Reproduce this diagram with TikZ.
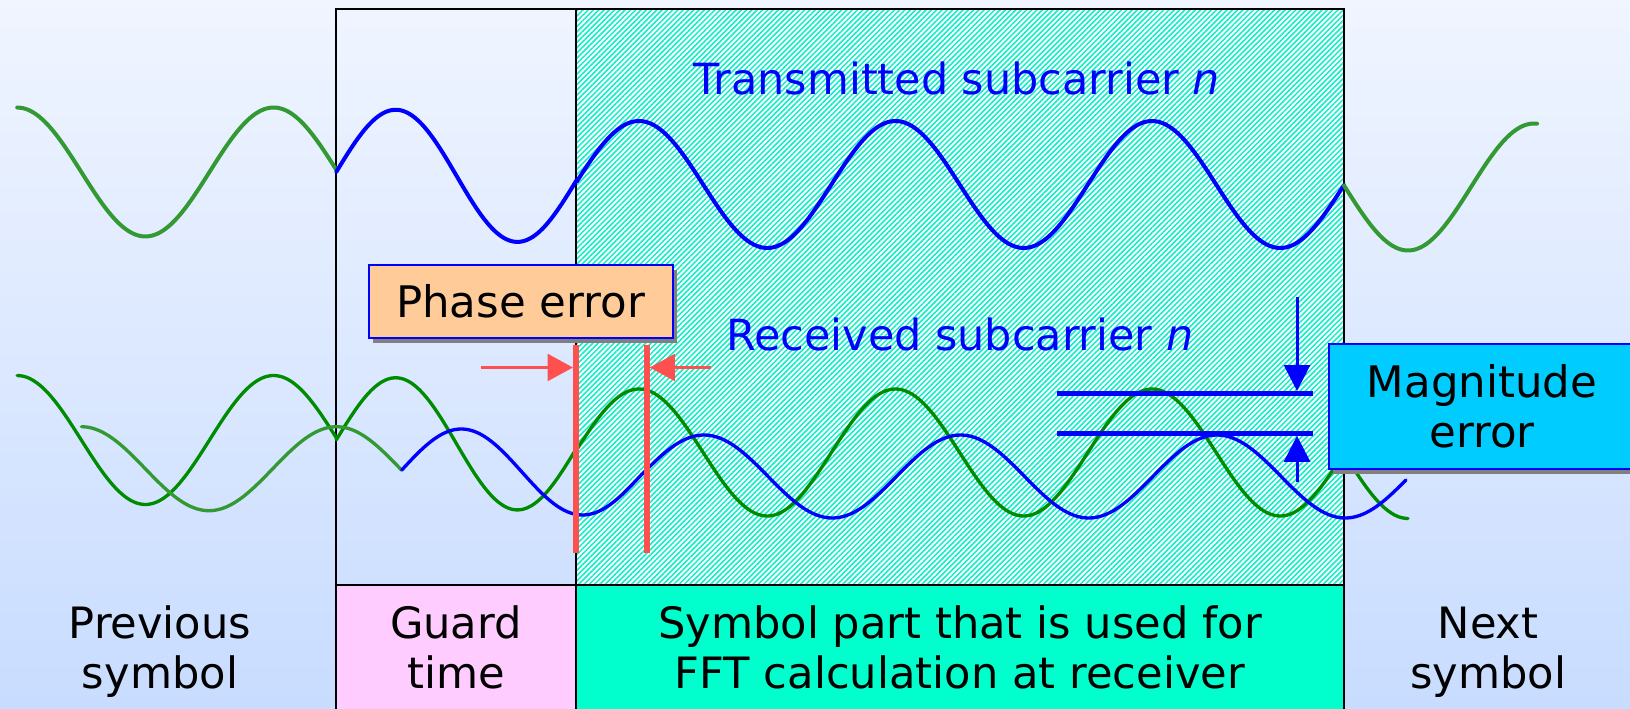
\documentclass[tikz,border=0pt]{standalone}
\usepackage{fontspec}
\setmainfont{DejaVu Sans}
\usetikzlibrary{arrows.meta,patterns.meta,shadows}
\definecolor{bgtop}{HTML}{F0F5FF}
\definecolor{bgbot}{HTML}{C8DCFF}
\definecolor{guardc}{HTML}{FFCCFF}
\definecolor{fftc}{HTML}{00FFCC}
\definecolor{hatchc}{HTML}{10EEC8}
\definecolor{phasec}{HTML}{FFCC99}
\definecolor{magc}{HTML}{00CCFF}
\definecolor{wblue}{HTML}{0000FF}
\definecolor{gdark}{HTML}{008C00}
\definecolor{glight}{HTML}{339933}
\definecolor{redc}{HTML}{FF5050}
\tikzset{
  lbl/.style={font=\fontsize{32.4}{37.5}\selectfont, align=center, anchor=base, inner sep=0pt},
  toplbl/.style={font=\fontsize{32.2}{37.5}\selectfont, text=wblue, anchor=base west, inner sep=0pt},
  wave/.style={line width=3pt, line join=round, line cap=round},
  rwave/.style={line width=2.5pt, line join=round, line cap=round},
  frame/.style={line width=1.5pt, draw=black},
  callout/.style={draw=wblue, line width=1.5pt, inner sep=0pt, align=center,
    font=\fontsize{32.6}{37.5}\selectfont,
    drop shadow={shadow xshift=3pt, shadow yshift=-3.75pt, fill=black!50, opacity=1}},
  redline/.style={draw=redc, line width=4.5pt},
  redarrow/.style={draw=redc, line width=2.4pt, -{Triangle[length=19pt,width=20pt]}},
  magline/.style={draw=wblue, line width=3.75pt},
  magarrow/.style={draw=wblue, line width=2.25pt, -{Triangle[length=19.5pt,width=19.5pt]}},
}
\begin{document}
\begin{tikzpicture}[x=0.75pt, y=-0.75pt]
\useasboundingbox (0,0) rectangle (1630,709);
\clip (0,0) rectangle (1630,709);
% background
\shade[top color=bgtop, bottom color=bgbot] (0,0) rectangle (1630,709);
% hatched FFT window
\fill[white] (576,9) rectangle (1344,585);
\fill[pattern={Lines[angle=45,distance=2.8pt,line width=1.15pt]}, pattern color=hatchc] (576,9) rectangle (1344,585);
% bottom boxes
\fill[guardc] (336,585) rectangle (576,712);
\fill[fftc] (576,585) rectangle (1344,712);
% frame
\draw[frame] (336,712) -- (336,9) -- (1344,9) -- (1344,712);
\draw[frame] (576,9) -- (576,712);
\draw[frame] (336,585) -- (1344,585);

% transmitted row
\draw[wave, glight] plot[domain=17.2:336.4, samples=60, smooth] (\x, {172-64.5*cos(((\x-17.2)/256.4)*360)});
\draw[wave, wblue] plot[domain=336.4:576.7, samples=50, smooth] (\x, {171.7+(\x-336.4)*0.0345-64*sin(((\x-336.4)/240.3)*360)})
  -- plot[domain=576.7:1344, samples=150, smooth] (\x, {184.5-63.5*cos(((\x-639)/256.5)*360)});
\draw[wave, glight] plot[domain=1344:1537, samples=40, smooth] (\x, {187+63.5*cos(((\x-1408)/252)*360)});

% received row: direct path
\draw[rwave, gdark] plot[domain=17.2:336.4, samples=60, smooth] (\x, {440-64.5*cos(((\x-17.2)/256.4)*360)})
  -- plot[domain=336.4:576.7, samples=50, smooth] (\x, {439.7+(\x-336.4)*0.0345-64*sin(((\x-336.4)/240.3)*360)})
  -- plot[domain=576.7:1344, samples=150, smooth] (\x, {452.5-63.5*cos(((\x-639)/256.5)*360)})
  -- plot[domain=1344:1408, samples=20, smooth] (\x, {455+63.5*cos(((\x-1408)/252)*360)});
% received row: echo
\draw[rwave, glight] plot[domain=81.5:401.8, samples=60, smooth] (\x, {468.7-42*cos(((\x-81.5)/255)*360)});
\draw[rwave, wblue] plot[domain=401.8:642, samples=50, smooth] (\x, {470+(\x-401.8)*0.0167-42*sin(((\x-401.8)/240.2)*360)})
  -- plot[domain=642:1406, samples=150, smooth] (\x, {476.5-41.5*cos(((\x-704)/256.5)*360)});

% wave labels
\node[toplbl] (tx) at (693.5,95) {Transmitted subcarrier \textit{n}};
\node[toplbl] (rx) at (726,350) {Received subcarrier \textit{n}};

% bottom labels (base anchor = last line baseline)
\node[lbl] (prev) at (160,688) {Previous\\symbol};
\node[lbl] (guard) at (456,688) {Guard\\time};
\node[lbl] (fft) at (960,688) {Symbol part that is used for\\FFT calculation at receiver};
\node[lbl] (next) at (1488,688) {Next\\symbol};

% phase error markers
\coordinate (pl1) at (576,345);
\coordinate (pl2) at (576,553);
\coordinate (pr1) at (646.6,345);
\coordinate (pr2) at (646.6,553);
\draw[redline] (pl1) -- (pl2);
\draw[redline] (pr1) -- (pr2);
\coordinate (pla) at (481,367.5);
\coordinate (plt) at (573,367.5);
\coordinate (pra) at (711,367.5);
\coordinate (prt) at (649.6,367.5);
\draw[redarrow] (pla) -- (plt);
\draw[redarrow] (pra) -- (prt);

% callouts
\node[callout, fill=phasec, minimum width=228pt, minimum height=54.4pt] (phase) at (520.5,301.25) {Phase error};
\node[callout, fill=magc, minimum width=229.5pt, minimum height=93.4pt] (mag) at (1482,406.75) {Magnitude\\error};

% magnitude error markers
\coordinate (m1a) at (1057,393.3);
\coordinate (m1b) at (1313,393.3);
\coordinate (m2a) at (1057,433.3);
\coordinate (m2b) at (1313,433.3);
\draw[magline] (m1a) -- (m1b);
\draw[magline] (m2a) -- (m2b);
\coordinate (mda) at (1297,297.3);
\coordinate (mdt) at (1297,391);
\coordinate (mua) at (1297,481.7);
\coordinate (mut) at (1297,435.8);
\draw[magarrow] (mda) -- (mdt);
\draw[magarrow] (mua) -- (mut);
\end{tikzpicture}
\end{document}
